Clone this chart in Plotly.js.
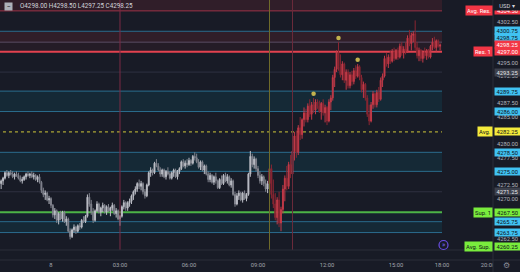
<!DOCTYPE html>
<html><head><meta charset="utf-8">
<script src="https://cdn.plot.ly/plotly-3.0.1.min.js"></script>
<style>html,body{margin:0;padding:0;background:#181b26;overflow:hidden}#chart{width:520px;height:272px}</style>
</head><body><div id="chart"></div>
<script>
// ---------------- DATA ----------------
const firstBarUTC = Date.UTC(2023, 5, 7, 21, 50); // 7th, 21:50 — 5-minute bars
const barMinutes = 5;
const rthOpen = '2023-06-08 09:30';

const open = [
 4272.75,4273.25,
 4273.75,4274.75,4274.25,4274.75,4274.50,4274.00,4274.50,4274.25,4273.75,4273.25,4273.50,4274.00,
 4274.50,4274.25,4274.50,4274.00,4274.25,4273.50,4274.00,4273.00,4271.50,4270.75,4271.00,4269.75,
 4270.00,4268.75,4267.00,4267.75,4266.00,4267.25,4266.25,4267.50,4265.75,4266.25,4264.00,4263.00,
 4264.25,4264.75,4264.00,4265.00,4264.75,4266.00,4265.75,4266.75,4270.25,4269.00,4267.50,4266.00,
 4267.75,4269.00,4267.50,4268.25,4268.75,4267.50,4268.50,4267.75,4268.25,4268.75,4267.25,4267.75,
 4266.25,4266.75,4268.50,4269.25,4268.25,4269.25,4269.50,4270.50,4271.25,4271.75,4272.75,4272.25,
 4272.75,4271.25,4270.50,4272.50,4274.75,4275.25,4274.75,4276.50,4276.00,4275.25,4274.50,4275.25,
 4274.00,4275.00,4274.50,4273.75,4274.75,4275.25,4274.00,4275.00,4275.50,4276.75,4276.00,4276.50,
 4276.25,4277.00,4276.50,4277.75,4277.50,4276.75,4275.75,4276.75,4275.25,4276.00,4274.50,4273.50,
 4274.25,4273.00,4274.00,4273.25,4272.00,4273.50,4272.75,4274.25,4273.25,4274.00,4272.50,4273.25,
 4270.75,4269.00,4270.50,4271.00,4269.75,4271.00,4270.00,4270.75,4274.50,4277.75,4276.25,4277.25,
 4275.50,4274.25,4273.25,4274.00,4272.75,4271.75,4272.75,4275.50,4270.75,4269.00,4266.50,4269.75,
 4265.50,4268.00,4271.75,4273.75,4272.25,4276.25,4274.50,4278.75,4281.50,4278.50,4283.00,4281.75,
 4284.50,4285.75,4284.50,4287.00,4285.50,4287.25,4286.25,4287.75,4287.00,4286.00,4287.50,4285.75,
 4286.75,4284.25,4287.75,4288.50,4292.25,4293.75,4296.75,4294.25,4292.75,4294.75,4291.75,4293.25,
 4290.75,4292.75,4291.50,4293.50,4292.50,4294.25,4292.25,4290.00,4291.00,4288.50,4285.50,4284.25,
 4287.25,4289.25,4287.25,4289.50,4288.25,4291.75,4292.50,4295.75,4294.75,4296.00,4295.25,4297.00,
 4295.75,4297.25,4296.00,4298.00,4296.75,4297.50,4297.00,4299.50,4298.50,4300.00,4300.25,4297.75,
 4296.25,4297.25,4295.75,4296.75,4296.25,4297.25,4296.00,4298.00,4298.75,4297.75,4299.00,4298.00
];
const high = [
 4273.50,4274.00,
 4275.00,4275.25,4275.00,4275.25,4275.00,4274.75,4275.00,4274.75,4274.25,4274.00,4274.25,4274.75,
 4275.00,4274.75,4275.00,4274.75,4274.50,4274.25,4274.50,4273.25,4272.00,4271.50,4271.25,4270.50,
 4270.25,4269.00,4268.25,4268.00,4267.50,4267.75,4267.75,4267.75,4266.75,4266.50,4264.50,4264.50,
 4265.25,4265.00,4265.25,4265.50,4266.25,4266.75,4267.00,4270.75,4271.00,4269.75,4268.25,4268.00,
 4269.50,4269.25,4268.50,4269.25,4269.00,4268.75,4269.00,4268.50,4269.25,4269.00,4268.25,4268.00,
 4267.00,4268.75,4269.75,4269.50,4269.50,4270.00,4270.75,4271.50,4272.25,4273.00,4273.50,4273.25,
 4273.00,4271.75,4272.75,4275.00,4275.75,4275.50,4276.75,4277.25,4276.50,4275.75,4275.50,4275.50,
 4275.25,4275.75,4275.00,4275.00,4275.50,4275.50,4275.25,4275.75,4277.00,4277.25,4277.00,4277.25,
 4277.50,4277.25,4278.00,4278.50,4278.25,4277.25,4277.00,4277.00,4276.25,4276.25,4275.00,4274.75,
 4274.50,4274.25,4274.75,4273.50,4273.75,4274.25,4274.50,4274.75,4274.50,4274.25,4273.75,4273.50,
 4271.25,4271.00,4271.50,4271.25,4271.25,4271.50,4271.00,4274.75,4278.75,4278.25,4277.75,4277.50,
 4276.00,4275.00,4274.50,4274.25,4273.50,4273.25,4277.00,4276.25,4273.50,4271.00,4270.25,4271.25,
 4268.50,4272.50,4274.25,4276.00,4276.75,4278.00,4279.25,4282.25,4282.50,4283.50,4285.00,4284.75,
 4286.75,4286.50,4287.50,4288.25,4287.75,4288.50,4288.25,4288.25,4288.00,4287.75,4288.25,4287.25,
 4287.00,4288.25,4289.00,4292.75,4294.25,4297.25,4298.75,4296.50,4295.25,4295.00,4293.75,4293.75,
 4293.25,4293.50,4294.00,4294.50,4294.75,4294.50,4292.75,4291.50,4291.25,4289.00,4287.25,4287.75,
 4289.75,4289.50,4290.00,4290.50,4292.25,4293.00,4296.25,4296.75,4296.50,4297.25,4297.50,4297.75,
 4297.50,4297.75,4298.50,4298.75,4298.00,4298.75,4300.00,4301.00,4300.50,4300.75,4302.75,4298.75,
 4297.75,4297.50,4297.25,4297.75,4297.50,4297.50,4298.25,4299.50,4299.75,4299.25,4299.25,4298.50
];
const low = [
 4271.75,4272.50,
 4273.50,4274.00,4273.75,4274.25,4273.75,4273.50,4274.00,4273.50,4273.00,4272.75,4273.25,4273.50,
 4274.00,4273.75,4273.75,4273.50,4273.25,4273.00,4272.75,4271.00,4270.25,4269.75,4269.50,4269.00,
 4268.25,4266.50,4266.25,4265.50,4265.25,4266.00,4265.75,4265.50,4265.00,4263.75,4262.50,4262.75,
 4263.75,4263.50,4263.75,4264.25,4264.50,4265.50,4265.50,4266.50,4268.50,4267.00,4265.50,4265.75,
 4267.50,4267.25,4266.75,4267.50,4267.25,4267.00,4267.50,4266.75,4267.75,4267.00,4266.50,4266.00,
 4265.00,4266.50,4268.00,4267.75,4267.75,4268.50,4269.00,4269.75,4270.75,4271.25,4271.75,4271.50,
 4270.75,4270.00,4270.25,4272.25,4274.00,4274.25,4274.50,4275.75,4275.00,4274.00,4274.00,4273.75,
 4273.50,4274.25,4273.50,4273.50,4274.00,4273.75,4273.50,4274.50,4275.25,4275.75,4275.50,4275.75,
 4276.00,4276.00,4276.25,4277.00,4276.50,4275.50,4275.25,4275.00,4274.50,4274.25,4273.00,4273.00,
 4272.75,4272.50,4272.75,4271.75,4271.75,4272.50,4272.50,4273.00,4272.75,4272.25,4272.00,4270.50,
 4268.50,4268.75,4269.75,4269.50,4269.25,4269.75,4269.50,4270.50,4274.00,4275.75,4275.50,4275.00,
 4273.75,4272.75,4272.50,4272.25,4271.25,4271.00,4270.50,4270.00,4268.25,4266.00,4265.25,4264.75,
 4264.00,4267.25,4269.50,4271.50,4271.75,4273.75,4274.00,4277.00,4277.50,4278.00,4280.75,4281.00,
 4283.25,4284.00,4284.00,4285.00,4284.50,4285.75,4285.50,4286.50,4285.75,4284.50,4285.25,4284.00,
 4283.50,4284.00,4286.25,4288.00,4290.50,4293.25,4293.50,4292.25,4291.75,4291.25,4290.00,4290.25,
 4290.25,4290.75,4291.00,4292.00,4292.25,4291.75,4289.50,4288.50,4288.00,4285.00,4283.50,4284.00,
 4286.50,4286.75,4286.75,4287.75,4288.00,4290.50,4292.25,4294.25,4294.00,4294.75,4295.00,4295.25,
 4295.50,4295.50,4295.75,4296.25,4295.75,4296.50,4296.75,4298.00,4297.25,4298.75,4297.25,4295.75,
 4295.25,4295.25,4295.00,4295.75,4295.50,4295.75,4295.75,4297.25,4297.50,4297.00,4297.75,4297.25
];
const close = [
 4273.25,4273.75,
 4274.75,4274.25,4274.75,4274.50,4274.00,4274.50,4274.25,4273.75,4273.25,4273.50,4274.00,4274.50,
 4274.25,4274.50,4274.00,4274.25,4273.50,4274.00,4273.00,4271.50,4270.75,4271.00,4269.75,4270.00,
 4268.75,4267.00,4267.75,4266.00,4267.25,4266.25,4267.50,4265.75,4266.25,4264.00,4263.00,4264.25,
 4264.75,4264.00,4265.00,4264.75,4266.00,4265.75,4266.75,4270.25,4269.00,4267.50,4266.00,4267.75,
 4269.00,4267.50,4268.25,4268.75,4267.50,4268.50,4267.75,4268.25,4268.75,4267.25,4267.75,4266.25,
 4266.75,4268.50,4269.25,4268.25,4269.25,4269.50,4270.50,4271.25,4271.75,4272.75,4272.25,4272.75,
 4271.25,4270.50,4272.50,4274.75,4275.25,4274.75,4276.50,4276.00,4275.25,4274.50,4275.25,4274.00,
 4275.00,4274.50,4273.75,4274.75,4275.25,4274.00,4275.00,4275.50,4276.75,4276.00,4276.50,4276.25,
 4277.00,4276.50,4277.75,4277.50,4276.75,4275.75,4276.75,4275.25,4276.00,4274.50,4273.50,4274.25,
 4273.00,4274.00,4273.25,4272.00,4273.50,4272.75,4274.25,4273.25,4274.00,4272.50,4273.25,4270.75,
 4269.00,4270.50,4271.00,4269.75,4271.00,4270.00,4270.75,4274.50,4277.75,4276.25,4277.25,4275.50,
 4274.25,4273.25,4274.00,4272.75,4271.75,4272.75,4275.50,4270.75,4269.00,4266.50,4269.75,4265.50,
 4268.00,4271.75,4273.75,4272.25,4276.25,4274.50,4278.75,4281.50,4278.50,4283.00,4281.75,4284.50,
 4285.75,4284.50,4287.00,4285.50,4287.25,4286.25,4287.75,4287.00,4286.00,4287.50,4285.75,4286.75,
 4284.25,4287.75,4288.50,4292.25,4293.75,4296.75,4294.25,4292.75,4294.75,4291.75,4293.25,4290.75,
 4292.75,4291.50,4293.50,4292.50,4294.25,4292.25,4290.00,4291.00,4288.50,4285.50,4284.25,4287.25,
 4289.25,4287.25,4289.50,4288.25,4291.75,4292.50,4295.75,4294.75,4296.00,4295.25,4297.00,4295.75,
 4297.25,4296.00,4298.00,4296.75,4297.50,4297.00,4299.50,4298.50,4300.00,4300.25,4297.75,4296.25,
 4297.25,4295.75,4296.75,4296.25,4297.25,4296.00,4298.00,4298.75,4297.75,4299.00,4298.00,4298.25
];

const timeTicks = ['2023-06-08 00:00','2023-06-08 03:00','2023-06-08 06:00','2023-06-08 09:00',
                   '2023-06-08 12:00','2023-06-08 15:00','2023-06-08 18:00','2023-06-08 20:00'];
const timeTickText = ['8','03:00','06:00','09:00','12:00','15:00','18:00','20:00'];
const priceTicks = [4302.5,4295,4292.5,4287.5,4285,4280,4277.5,4272.5,4270,4262.5];

const levelPrices = [4304.50,4300.75,4298.75,4297.00,4293.25,4289.75,4286.00,4282.25,4278.50,4275.00,4271.25,4267.50,4265.75,4263.75,4260.25];
const levelKinds  = ['avgres','zone','zonemid','res','gray','zone','zone','avg','zone','zone','gray','sup','zone','zone','avgsup'];
const levelNames  = ['Avg. Res.','','','Res. 1','','','','Avg.','','','','Sup. 1','','','Avg. Sup.'];
const zoneLow  = [4304.50,4298.75,4297.00,4286.00,4275.00,4265.75,4263.75];
const zoneHigh = [4307.00,4300.75,4298.75,4289.75,4278.50,4267.50,4265.75];
const zoneKinds = ['res','res','res2','mid','mid','sup2','mid'];
const levelsEnd = '2023-06-08 17:00';

const sessionTimes = ['2023-06-08 03:00','2023-06-08 09:30','2023-06-08 10:30'];
const markerTimes  = ['2023-06-08 11:25','2023-06-08 12:30','2023-06-08 13:20'];
const markerPrices = [4289.25,4299.50,4295.50];

// ---------------- GEOMETRY / STYLE ----------------
const W = 520, H = 272, PRICE_W = 27, TIME_H = 12, PANE_H = 250;
const plotW = W - PRICE_W, plotH = H - TIME_H;
const Y_TOP = 4306.5, PX_PER_PT = 5.44;
const yBottom = Y_TOP - PANE_H / PX_PER_PT;
const BG = '#181b26', BORDER = '#2a2e39';
const FONT = 'Roboto, "Liberation Sans", sans-serif';
const FS = 5.8;

const kindStyle = {
  avgres: {line:'#9a3247', w:1, dash:'solid', box:'#f23645', txt:'#ffffff'},
  zone:   {line:'#2a6c8d', w:1, dash:'solid', box:'#40c2f2', txt:'#0e1118'},
  zonemid:{line:'#5a4d63', w:1, dash:'solid', box:'#40c2f2', txt:'#0e1118'},
  res:    {line:'#e2424f', w:2, dash:'solid', box:'#f23645', txt:'#ffffff'},
  gray:   {line:'#2e3140', w:1, dash:'solid', box:'#3d414d', txt:'#e8e9ec'},
  avg:    {line:'#d2c93a', w:1, dash:'dot',   box:'#f4eb3c', txt:'#0e1118'},
  sup:    {line:'#4cb347', w:2, dash:'solid', box:'#79ec3d', txt:'#0e1118'},
  avgsup: {line:'#2e3a33', w:1, dash:'solid', box:'#79ec3d', txt:'#0e1118'},
  last:   {box:'#f23645', txt:'#ffffff'}
};
const zoneFill = {res:'rgba(242,54,69,0.11)', res2:'rgba(242,54,69,0.06)', mid:'rgba(0,165,200,0.10)', sup2:'rgba(0,165,200,0.045)'};
const sessionColors = ['#7b2b45','#6f6b2a','#6a2a3a'];

const fmt = t => new Date(t).toISOString().slice(0,16).replace('T',' ');
const times = close.map((_, i) => fmt(firstBarUTC + i * barMinutes * 60000));

const on = [], rth = [];
times.forEach((t, i) => (t < rthOpen ? on : rth).push(i));

function candles(idx, up, down) {
  return {
    type:'candlestick', x: idx.map(i=>times[i]),
    open: idx.map(i=>open[i]), high: idx.map(i=>high[i]), low: idx.map(i=>low[i]), close: idx.map(i=>close[i]),
    increasing:{line:{color:up,width:1}, fillcolor:up},
    decreasing:{line:{color:down,width:1}, fillcolor:down},
    whiskerwidth:0, hoverinfo:'skip', showlegend:false
  };
}
// session vertical lines drawn as line traces (behind candles)
const sessionTraces = sessionTimes.map((t, k) => ({type:'scatter', mode:'lines', x:[t, t], y:[yBottom, Y_TOP],
  line:{color:sessionColors[k], width:1}, hoverinfo:'skip', showlegend:false, cliponaxis:true}));
const traces = [
  ...sessionTraces,
  candles(on, '#bcbec6', '#80838d'),
  candles(rth, '#c33a48', '#8a2632'),
  {type:'scatter', mode:'markers', x: markerTimes, y: markerPrices,
   marker:{color:'#c2b24e', size:4.5}, hoverinfo:'skip', showlegend:false}
];

const shapes = [];
zoneLow.forEach((lo, k) => shapes.push({type:'rect', xref:'x', yref:'y', layer:'below',
  x0:'2023-06-07 12:00', x1: levelsEnd, y0: lo, y1: zoneHigh[k], fillcolor: zoneFill[zoneKinds[k]], line:{width:0}}));
levelPrices.forEach((p, k) => { const s = kindStyle[levelKinds[k]];
  shapes.push({type:'line', xref:'x', yref:'y', layer:'below', x0:'2023-06-07 12:00', x1: levelsEnd, y0:p, y1:p,
    line:{color:s.line, width:s.w, dash:s.dash}}); });
// pane / axis borders
const paneBottom = (plotH - PANE_H) / plotH;
shapes.push({type:'line', xref:'paper', yref:'paper', layer:'above', x0:0, x1:W/plotW, y0:paneBottom, y1:paneBottom, line:{color:BORDER, width:1}});
shapes.push({type:'rect', xref:'paper', yref:'paper', layer:'above', x0:1, x1:W/plotW, y0:-TIME_H/plotH, y1:0, fillcolor:BG, line:{width:0}});
shapes.push({type:'line', xref:'paper', yref:'paper', layer:'above', x0:0, x1:W/plotW, y0:0, y1:0, line:{color:BORDER, width:1}});
shapes.push({type:'line', xref:'paper', yref:'paper', layer:'above', x0:1, x1:1, y0:-TIME_H/plotH, y1:1, line:{color:BORDER, width:1}});
// scroll-to-realtime button
const btnX = 443.5/plotW, btnY = (plotH-245)/plotH;
shapes.push({type:'circle', xref:'paper', yref:'paper', xsizemode:'pixel', ysizemode:'pixel', xanchor:btnX, yanchor:btnY,
  x0:-4.5, x1:4.5, y0:-4.5, y1:4.5, line:{color:'#6b4fe6', width:1.2}, layer:'above'});

// price-scale labels with collision avoidance (pixel positions inside the pane)
const labels = levelPrices.map((p,k)=>({p, kind:levelKinds[k], name:levelNames[k]}));
labels.push({p: close[close.length-1], kind:'last', name:'', priority:true});
labels.sort((a,b)=>b.p-a.p);
labels.forEach(l => { l.pix = (Y_TOP - l.p) * PX_PER_PT; l.pos = l.pix; });
const GAP = 7;
const fi = labels.findIndex(l=>l.priority);
for (let k=fi-1;k>=0;k--) labels[k].pos = Math.min(labels[k].pix, labels[k+1].pos - GAP);
for (let k=fi+1;k<labels.length;k++) labels[k].pos = Math.max(labels[k].pix, labels[k-1].pos + GAP);
for (let k=labels.length-1;k>=0;k--) { const lim = k===labels.length-1 ? PANE_H-4 : labels[k+1].pos - GAP; if (labels[k].pos > lim) labels[k].pos = lim; }

const annotations = [];
labels.forEach(l => {
  const s = kindStyle[l.kind]; const py = 1 - l.pos / plotH;
  annotations.push({xref:'paper', yref:'paper', x:1, y:py, xanchor:'left', yanchor:'middle', xshift:1,
    text:l.p.toFixed(2), showarrow:false, bgcolor:s.box, font:{color:s.txt, size:FS, family:FONT},
    width:25, height:7, borderpad:0, align:'center'});
  if (l.name) annotations.push({xref:'paper', yref:'paper', x:1, y:py, xanchor:'right', yanchor:'middle',
    text:l.name, showarrow:false, bgcolor:s.box, font:{color:s.txt, size:FS, family:FONT}, height:7, borderpad:1});
});
const n = close.length - 1;
annotations.push({xref:'paper', yref:'paper', x:4/plotW, y:(plotH-6)/plotH, xanchor:'left', yanchor:'middle',
  text:'−', showarrow:false, bgcolor:'#aeb1b9', font:{color:'#181b26', size:7, family:FONT}, width:7, height:7, borderpad:0});
annotations.push({xref:'paper', yref:'paper', x:18/plotW, y:(plotH-6)/plotH, xanchor:'left', yanchor:'middle', showarrow:false,
  text:'O'+open[n].toFixed(2)+' H'+high[n].toFixed(2)+' L'+low[n].toFixed(2)+' C'+close[n].toFixed(2),
  font:{color:'#d1d4dc', size:6.3, family:FONT}});
annotations.push({xref:'paper', yref:'paper', x:1, y:1, xanchor:'left', yanchor:'top', xshift:0, showarrow:false,
  text:'USD ▾', bgcolor:BG, width:26, height:9, borderpad:0, font:{color:'#d1d4dc', size:FS, family:FONT}});
annotations.push({xref:'paper', yref:'paper', x:btnX, y:btnY, xanchor:'center', yanchor:'middle', showarrow:false,
  text:'»', font:{color:'#7d62f2', size:7, family:FONT}});
annotations.push({xref:'paper', yref:'paper', x:506/plotW, y:(plotH-265)/plotH, xanchor:'center', yanchor:'middle', showarrow:false,
  text:'⚙', font:{color:'#8a8d96', size:8, family:'DejaVu Sans'}});

const layout = {
  width:W, height:H, margin:{l:0, r:PRICE_W, t:0, b:TIME_H, pad:0},
  paper_bgcolor:BG, plot_bgcolor:BG, showlegend:false, dragmode:false,
  font:{family:FONT, size:FS, color:'#b2b5be'},
  xaxis:{type:'date', range:['2023-06-07 21:47','2023-06-08 20:13'], rangebreaks:[{pattern:'hour', bounds:[17,18]}],
    rangeslider:{visible:false}, anchor:'free', position:0, tickmode:'array', tickvals:timeTicks, ticktext:timeTickText,
    tickfont:{size:FS, color:'#a3a6af', family:FONT}, showgrid:false, zeroline:false, showline:false, ticks:'', fixedrange:true},
  yaxis:{domain:[paneBottom,1], range:[yBottom, Y_TOP], side:'right', tickmode:'array', tickvals:priceTicks,
    ticktext:priceTicks.map(v=>v.toFixed(2)), tickfont:{size:FS, color:'#b2b5be', family:FONT}, ticklabelstandoff:3,
    showgrid:false, zeroline:false, showline:false, ticks:'', fixedrange:true},
  shapes, annotations
};
Plotly.newPlot('chart', traces, layout, {displayModeBar:false, staticPlot:true});
</script></body></html>
